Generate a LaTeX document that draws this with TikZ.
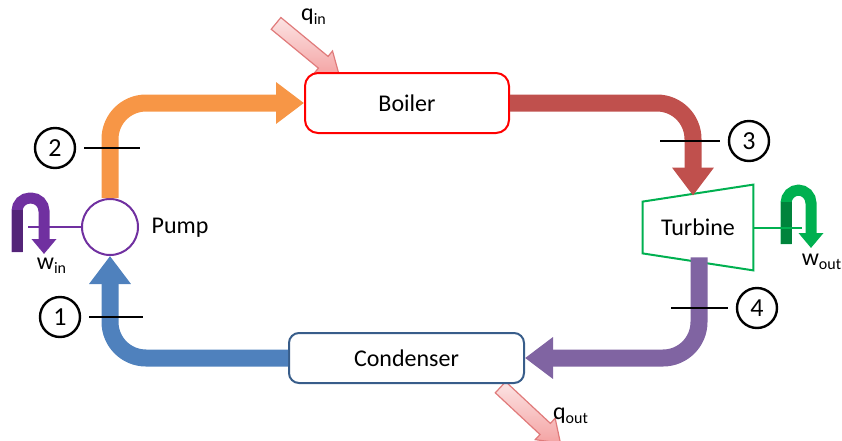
\documentclass[tikz,border=0pt]{standalone}
\usepackage{fontspec}
\setmainfont{Carlito}
\usetikzlibrary{arrows.meta,calc,shapes.arrows}
\definecolor{cy01}{HTML}{F79646}
\definecolor{cy02}{HTML}{C0504D}
\definecolor{cy03}{HTML}{8064A2}
\definecolor{cy04}{HTML}{4F81BD}
\definecolor{cy05}{HTML}{FF0000}
\definecolor{cy06}{HTML}{385D8A}
\definecolor{cy07}{HTML}{7030A0}
\definecolor{cy08}{HTML}{00B050}
\definecolor{cy09}{HTML}{F4A3A3}
\definecolor{cy10}{HTML}{E07B7B}
\tikzset{
  unit/.style={rectangle, draw, line width=1pt, fill=white},
  state/.style={circle, draw, line width=1.2pt, minimum size=20pt, inner sep=0pt, font=\fontsize{13}{15}\selectfont},
  tick/.style={line width=1pt, shorten <=4pt},
  pipe/.style={line width=8.5pt, rounded corners=18pt, -{Triangle[length=14pt,width=20pt]}},
  work/.style={line width=5.5pt, rounded corners=6.5pt, -{Triangle[length=7.5pt,width=12pt]}},
  heat/.style={single arrow, draw=cy10, line width=0.6pt, top color=cy09!30, bottom color=cy09,
    minimum height=41pt, minimum width=14pt, single arrow head extend=3.5pt, single arrow tip angle=70,
    inner xsep=0pt, inner ysep=3.5pt, text height=0pt, text depth=0pt},
}
\begin{document}
\begin{tikzpicture}[x=0.5pt,y=-0.5pt,font=\fontsize{12}{14}\selectfont]
            \useasboundingbox (0,0) rectangle (842,440);
            % heat in and out
            \node[heat, rotate=-39.5] (qinarrow) at (303.5,46) {};
            \node[heat, rotate=-43] (qoutarrow) at (526.5,411.5) {};
            \node (qin) at (314,17) {q\textsubscript{in}};
            \node (qout) at (571,416) {q\textsubscript{out}};
            % components
            \node[unit, draw=cy05, rounded corners=6.5pt, minimum width=102pt, minimum height=30pt] (boiler) at (407,103) {Boiler};
            \node[unit, draw=cy06, rounded corners=5pt, minimum width=117.5pt, minimum height=25pt] (condenser) at (406.5,358) {Condenser};
            \node[circle, draw=cy07, line width=1pt, minimum size=28pt, inner sep=0pt] (pump) at (110,227) {};
            \node (pumplabel) at (180,228) {Pump};
            \node[minimum width=55pt, minimum height=42.5pt, inner sep=0pt] (turbine) at (698,227.5) {Turbine};
            \draw[cy08, line width=1pt] (turbine.north east) -- (turbine.south east) -- ($(turbine.south west)+(0,-17)$) -- ($(turbine.north west)+(0,17)$) -- cycle;
            \coordinate (tin) at ($(turbine.north)+(-5,11)$);
            \coordinate (tout) at ($(turbine.south)+(1,-13)$);
            % working fluid
            \draw[pipe, cy01] (pump.north) |- (boiler.west);
            \draw[pipe, cy02] (boiler.east) -| (tin);
            \draw[pipe, cy03] (tout) |- (condenser.east);
            \draw[pipe, cy04] (condenser.west) -| (pump.south);
            % work in and out
            \coordinate (winshaft) at (28,227);
            \coordinate (woutshaft) at (802,227.5);
            \draw[work, cy07] (17,252) -- (17,198) -- (44,198) -- (44,254);
            \draw[cy07!75!black, line width=5.5pt] (17,252) -- (17,210);
            \draw[work, cy08] (786,244) -- (786,190) -- (811,190) -- (811,248);
            \draw[cy08!75!black, line width=5.5pt] (786,244) -- (786,202);
            \draw[cy07, line width=1pt] (pump.west) -- (winshaft);
            \draw[cy08, line width=1pt] (turbine.east) -- (woutshaft);
            \node (win) at (52,266) {w\textsubscript{in}};
            \node (wout) at (822,262) {w\textsubscript{out}};
            % states
            \node[state] (s1) at (60,317) {1};
            \node[state] (s2) at (55,148) {2};
            \node[state] (s3) at (749,141) {3};
            \node[state] (s4) at (757,308) {4};
            \coordinate (t1) at (143,317);
            \coordinate (t2) at (140,148);
            \coordinate (t3) at (660,141);
            \coordinate (t4) at (671,308);
            \draw[tick] (s1) -- (t1);
            \draw[tick] (s2) -- (t2);
            \draw[tick] (s3) -- (t3);
            \draw[tick] (s4) -- (t4);
        \end{tikzpicture}
\end{document}
